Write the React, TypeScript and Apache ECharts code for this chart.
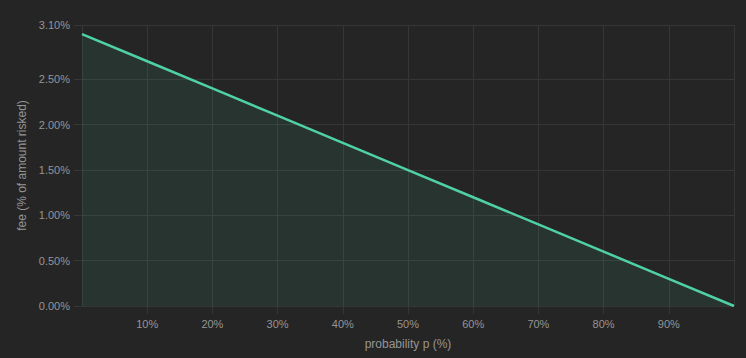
import React, { useEffect, useRef } from "react";
import * as echarts from "echarts";

const probabilities = [0, 10, 20, 30, 40, 50, 60, 70, 80, 90, 100];
const fees = [3.0, 2.7, 2.4, 2.1, 1.8, 1.5, 1.2, 0.9, 0.6, 0.3, 0.0];
const yTicks = [0, 0.5, 1.0, 1.5, 2.0, 2.5, 3.1];

export default function App() {
  const ref = useRef<HTMLDivElement>(null);
  useEffect(() => {
    if (!ref.current) return;
    const chart = echarts.init(ref.current, undefined, { renderer: "svg" });
    const labelColor = "#959595";
    const gridColor = "#363636";
    chart.setOption({
      animation: false,
      backgroundColor: "#252525",
      textStyle: { fontFamily: "Liberation Sans, Arial, sans-serif" },
      grid: { left: 82, right: 12, top: 25, bottom: 52 },
      xAxis: {
        type: "value",
        min: 0,
        max: 100,
        interval: 10,
        name: "probability p (%)",
        nameLocation: "middle",
        nameGap: 32,
        nameTextStyle: { color: labelColor, fontSize: 12 },
        axisLine: { show: false },
        axisTick: { show: true, length: 8, lineStyle: { color: gridColor } },
        axisLabel: {
          color: labelColor,
          fontSize: 11,
          margin: 12,
          showMinLabel: false,
          showMaxLabel: false,
          formatter: (v: number) => `${v}%`,
        },
        splitLine: { show: true, lineStyle: { color: gridColor, width: 1 } },
      },
      yAxis: {
        type: "value",
        min: 0,
        max: 3.1,
        name: "fee (% of amount risked)",
        nameLocation: "middle",
        nameGap: 50,
        nameTextStyle: { color: labelColor, fontSize: 12 },
        axisLine: { show: false },
        axisTick: {
          show: true,
          length: 8,
          customValues: yTicks,
          lineStyle: { color: gridColor },
        },
        axisLabel: {
          color: labelColor,
          fontSize: 11,
          margin: 12,
          customValues: yTicks,
          formatter: (v: number) => `${v.toFixed(2)}%`,
        },
        splitLine: { show: true, lineStyle: { color: gridColor, width: 1 } },
      },
      series: [
        {
          type: "line",
          data: probabilities.map((p, i) => [p, fees[i]]),
          symbol: "none",
          lineStyle: { color: "#4fd1a5", width: 2.5 },
          itemStyle: { color: "#4fd1a5" },
          areaStyle: { color: "rgba(79,209,165,0.13)" },
        },
      ],
    });
    return () => chart.dispose();
  }, []);
  return <div ref={ref} style={{ width: 746, height: 358, position: "absolute", left: 0, top: 0 }} />;
}
